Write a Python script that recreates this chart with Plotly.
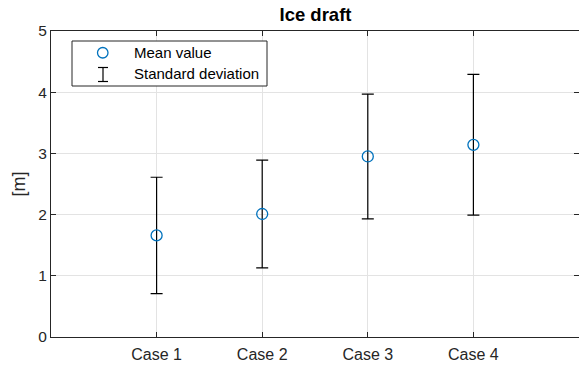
import plotly.graph_objects as go

cases = ["Case 1", "Case 2", "Case 3", "Case 4"]
case_pos = [1, 2, 3, 4]
mean_values = [1.66, 2.01, 2.95, 3.14]
std_values = [0.95, 0.88, 1.02, 1.15]
y_ticks = [0, 1, 2, 3, 4, 5]

AX = "#262626"
BLUE = "#0072BD"
FONT = "Liberation Sans, Arial, sans-serif"

fig = go.Figure()
fig.add_trace(go.Scatter(
    x=case_pos, y=mean_values, mode="markers",
    marker=dict(symbol="circle-open", size=11, color=BLUE, line=dict(width=1.3, color=BLUE)),
    error_y=dict(type="data", array=std_values, visible=True, color="black", thickness=1.2, width=6),
    showlegend=False,
))

# manual legend (MATLAB-style)
shapes = [
    dict(type="rect", xref="paper", yref="paper", x0=(72-51)/528, x1=(267-51)/528,
         y0=(337-86)/306, y1=(337-41)/306, line=dict(color=AX, width=1), fillcolor="white", layer="above"),
    dict(type="line", xref="paper", yref="paper", x0=(103-51)/528, x1=(103-51)/528,
         y0=(337-81.5)/306, y1=(337-67.5)/306, line=dict(color="black", width=1.2), layer="above"),
    dict(type="line", xref="paper", yref="paper", x0=(98-51)/528, x1=(108-51)/528,
         y0=(337-81.5)/306, y1=(337-81.5)/306, line=dict(color="black", width=1.2), layer="above"),
    dict(type="line", xref="paper", yref="paper", x0=(98-51)/528, x1=(108-51)/528,
         y0=(337-67.5)/306, y1=(337-67.5)/306, line=dict(color="black", width=1.2), layer="above"),
    dict(type="circle", xref="paper", yref="paper", x0=(97.5-51)/528, x1=(108-51)/528,
         y0=(337-58)/306, y1=(337-47.5)/306, line=dict(color=BLUE, width=1.3), layer="above"),
]
annotations = [
    dict(text="Mean value", xref="paper", yref="paper", x=(132-51)/528, y=(337-53)/306,
         xanchor="left", yanchor="middle", showarrow=False, font=dict(family=FONT, size=15, color="black")),
    dict(text="Standard deviation", xref="paper", yref="paper", x=(132-51)/528, y=(337-74)/306,
         xanchor="left", yanchor="middle", showarrow=False, font=dict(family=FONT, size=15, color="black")),
]

fig.update_layout(
    width=579, height=366,
    margin=dict(l=51, r=0, t=31, b=29),
    paper_bgcolor="white", plot_bgcolor="white",
    font=dict(family=FONT, size=15, color=AX),
    title=dict(text="<b>Ice draft</b>", x=(315.5)/579, xanchor="center", y=1 - 15/366, yanchor="middle",
               font=dict(family=FONT, size=18.5, color="black")),
    shapes=shapes, annotations=annotations,
    showlegend=False,
)
fig.update_xaxes(
    range=[0, 5], tickvals=case_pos, ticktext=cases,
    showline=True, linecolor=AX, linewidth=1, mirror="ticks",
    ticks="inside", ticklen=5, tickcolor=AX,
    showgrid=True, gridcolor="#e3e3e3", gridwidth=1, zeroline=False,
    tickfont=dict(size=16, color=AX), ticklabelstandoff=3,
)
fig.update_yaxes(
    range=[0, 5], tickvals=y_ticks,
    showline=True, linecolor=AX, linewidth=1, mirror="ticks",
    ticks="inside", ticklen=5, tickcolor=AX,
    showgrid=True, gridcolor="#e3e3e3", gridwidth=1, zeroline=False,
    tickfont=dict(size=15.5, color=AX),
    title=dict(text="[m]", font=dict(size=18, color=AX), standoff=7),
)

fig.write_html("out.html")
